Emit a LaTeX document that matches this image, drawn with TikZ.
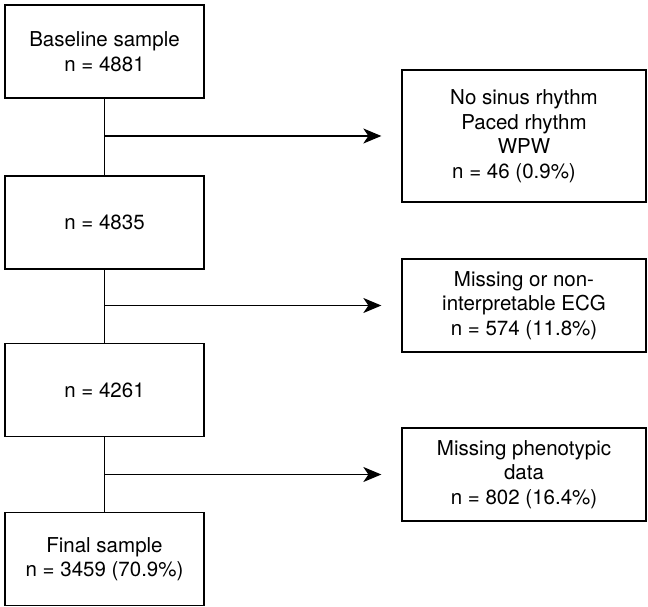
\documentclass[tikz,border=0pt]{standalone}
\usepackage{fontspec}
\setmainfont{TeX Gyre Heros}
\usetikzlibrary{arrows.meta}
\begin{document}
\begin{tikzpicture}[x=1pt,y=-1pt,
  box/.style={draw, line width=1.3pt, rectangle, align=center,
    font=\fontsize{20.5}{24.5}\selectfont, inner sep=0pt},
  lbox/.style={box, minimum width=199pt, minimum height=93pt},
  rbox/.style={box, minimum width=244pt, minimum height=93pt},
  link/.style={line width=1.3pt},
  arr/.style={link, -{Stealth[length=18pt,width=15pt,inset=5pt]}, shorten >=20pt}]
\useasboundingbox (0,0) rectangle (648,607);
% left column
\node[lbox] (b1) at (104.5,51.5) {Baseline sample\\n = 4881};
\node[lbox] (b2) at (104.5,222.5) {n = 4835};
\node[lbox] (b3) at (104.5,390) {n = 4261};
\node[lbox] (b4) at (104.5,559) {Final sample\\n = 3459 (70.9\%)};
% right column
\node[rbox, minimum height=132pt] (rA) at (524,136) {No sinus rhythm\\Paced rhythm\\WPW\\n = 46 (0.9\%)\hspace*{20pt}};
\node[rbox] (rB) at (524,305.5) {Missing or non-\\interpretable ECG\\n = 574 (11.8\%)};
\node[rbox] (rC) at (524,474.5) {Missing phenotypic\\data\\n = 802 (16.4\%)};
% connectors
\draw[link] (b1) -- (b2);
\draw[link] (b2) -- (b3);
\draw[link] (b3) -- (b4);
\draw[arr] (b1.south |- rA.west) -- (rA.west);
\draw[arr] (b2.south |- rB.west) -- (rB.west);
\draw[arr] (b3.south |- rC.west) -- (rC.west);
\end{tikzpicture}
\end{document}
